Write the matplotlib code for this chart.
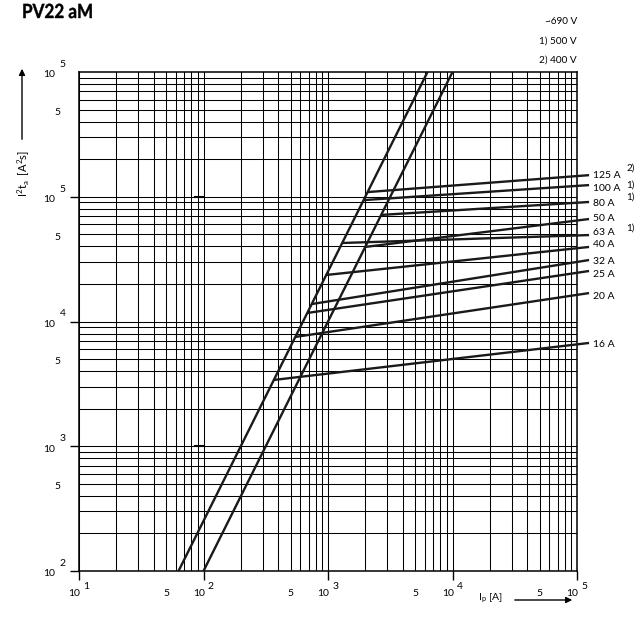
import numpy as np
import matplotlib
matplotlib.use('Agg')
import matplotlib.pyplot as plt
from matplotlib.patches import FancyArrowPatch, PathPatch
from matplotlib.textpath import TextPath
from matplotlib.font_manager import FontProperties
from matplotlib.transforms import Affine2D

plt.rcParams['font.family'] = ['Lato', 'DejaVu Sans']

# steep characteristics: current (A) at which I2t reaches 1e2 A2s, slope 2 in log-log
steep_i0 = [63.0, 100.0]

# fuse lines: I2t where each leaves its steep curve and I2t at the right end
fuse_labels = ['125 A', '100 A', '80 A', '50 A', '63 A', '40 A', '32 A', '25 A', '20 A', '16 A']
fuse_curve = [0, 0, 1, 1, 0, 0, 0, 0, 0, 0]
fuse_start = [1.09e5, 9.4e4, 7.15e4, 3.96e4, 4.26e4, 2.36e4, 1.38e4, 1.17e4, 7.52e3, 3.40e3]
fuse_end = [1.49e5, 1.24e5, 9.08e4, 6.63e4, 4.93e4, 3.96e4, 3.11e4, 2.54e4, 1.69e4, 6.73e3]
fuse_notes = ['2)', '1)', '1)', '1)', '', '', '', '', '', '']
i_end = 1.25e5

legend_lines = ['~690 V', '1) 500 V', '2) 400 V']

W, H = 644, 635
fig = plt.figure(figsize=(W / 100, H / 100), dpi=100)
ax = fig.add_axes([79 / W, 1 - 571 / H, 498 / W, 499 / H])
ax.set_xscale('log')
ax.set_yscale('log')
ax.set_xlim(1e1, 1e5)
ax.set_ylim(1e2, 1e6)

# grid: every integer multiple of each decade
for n in range(1, 5):
    for k in range(1, 10):
        ax.axvline(k * 10 ** n, color='black', lw=0.75, zorder=1)
for n in range(2, 6):
    for k in range(1, 10):
        ax.axhline(k * 10 ** n, color='black', lw=0.75, zorder=1)

# short marks on the 1e3 and 1e5 lines
for yv in [1e3, 1e5]:
    ax.plot([85, 99], [yv, yv], color='black', lw=1.5, zorder=2)

for s in ax.spines.values():
    s.set_linewidth(1.1)

ax.set_xticks([1e1, 1e2, 1e3, 1e4, 1e5])
ax.set_yticks([1e2, 1e3, 1e4, 1e5])
ax.minorticks_off()
ax.tick_params(length=6.5, width=1.0, direction='out', labelbottom=False, labelleft=False)

# steep curves
yy = np.logspace(2, 6, 50)
for i0 in steep_i0:
    ax.plot(i0 * np.sqrt(yy / 100.0), yy, color='#1a1a1a', lw=1.7, zorder=3)

# fuse lines
for c, y0, y1 in zip(fuse_curve, fuse_start, fuse_end):
    x0 = steep_i0[c] * np.sqrt(y0 / 100.0)
    ax.plot([x0, i_end], [y0, y1], color='#1a1a1a', lw=1.7, zorder=3,
            clip_on=False, solid_capstyle='butt')

# label nudges in points
lab_dy = [-0.3, -2.3, -1.2, 0.3, 1.8, 1.8, -1.0, -2.5, -2.5, -1.2]
for lab, y1, dy in zip(fuse_labels, fuse_end, lab_dy):
    ax.annotate(lab, (i_end, y1), xytext=(3, dy), textcoords='offset points',
                ha='left', va='center', fontsize=7.5, annotation_clip=False)
note_dy = [5.3, 0.3, 3.3, -6.8]
for note, y1, dy in zip(fuse_notes, fuse_end, note_dy):
    if note:
        ax.annotate(note, (i_end, y1), xytext=(27, dy), textcoords='offset points',
                    ha='left', va='center', fontsize=7, annotation_clip=False)

# axis tick labels
for n in range(1, 6):
    ax.annotate('10', (10 ** n, 1e2), xytext=(1, -16), textcoords='offset points',
                ha='right', va='center', fontsize=7.5, annotation_clip=False)
    ax.annotate(str(n), (10 ** n, 1e2), xytext=(3, -11), textcoords='offset points',
                ha='left', va='center', fontsize=7.5, annotation_clip=False)
for n in range(1, 5):
    ax.annotate('5', (5 * 10 ** n, 1e2), xytext=(0, -16), textcoords='offset points',
                ha='center', va='center', fontsize=7.5, annotation_clip=False)
ylabs = ['2', '3', '4', '5', '5']
for n, e in zip(range(2, 7), ylabs):
    ax.annotate('10', (1e1, 10 ** n), xytext=(-17, -2), textcoords='offset points',
                ha='right', va='center', fontsize=7.5, annotation_clip=False)
    ax.annotate(e, (1e1, 10 ** n), xytext=(-14, 5.5), textcoords='offset points',
                ha='left', va='center', fontsize=7.5, annotation_clip=False)
for n in range(2, 6):
    ax.annotate('5', (1e1, 5 * 10 ** n), xytext=(-15.5, -2), textcoords='offset points',
                ha='center', va='center', fontsize=7.5, annotation_clip=False)

# title as a horizontally squeezed bold text path (pixel units)
tp = TextPath((0, 0), 'PV22 aM', size=19.5, prop=FontProperties(family='Lato', weight='bold'))
fig.add_artist(PathPatch(tp, transform=Affine2D().scale(0.875, 1.0).translate(22, H - 18),
                         color='black', lw=0.3))

for txt, py in zip(legend_lines, [21, 41, 60]):
    fig.text(577 / W, 1 - py / H, txt, fontsize=7.2, ha='right', va='center')

# axis titles with arrows
fig.text(502 / W, 1 - 598 / H, r'I$_\mathregular{p}$ [A]', fontsize=7.5, ha='right', va='center')
fig.add_artist(FancyArrowPatch((512 / W, 1 - 600 / H), (575 / W, 1 - 600 / H),
               transform=fig.transFigure, arrowstyle='-|>', mutation_scale=9, lw=1, color='black'))
fig.text(24 / W, 1 - 197 / H, r'I$^\mathregular{2}$t$_\mathregular{a}$  [A$^\mathregular{2}$s]',
         fontsize=8, rotation=90, ha='center', va='bottom')
fig.add_artist(FancyArrowPatch((22 / W, 1 - 142 / H), (22 / W, 1 - 66 / H),
               transform=fig.transFigure, arrowstyle='-|>', mutation_scale=9, lw=1, color='black'))

fig.savefig('out.png', dpi=100)
